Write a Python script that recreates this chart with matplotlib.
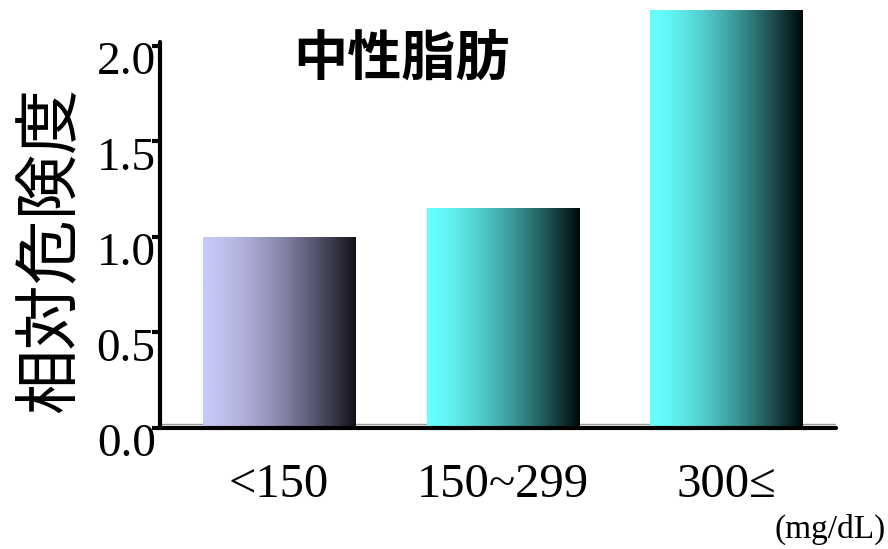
import numpy as np
import matplotlib
matplotlib.use('Agg')
from matplotlib import pyplot as plt
from matplotlib import transforms
from matplotlib.colors import LinearSegmentedColormap

# data
categories = ['<150', '150~299', '300≤']
risk = [1.0, 1.15, 2.19]
light_colors = ['#c8c8f8', '#66ffff', '#66ffff']
dark_colors = ['#12121a', '#000808', '#000808']
yticks = [0.0, 0.5, 1.0, 1.5, 2.0]

serif = 'Liberation Serif'
cjk = 'Noto Sans CJK JP'

fig = plt.figure(figsize=(8.88, 5.49), dpi=100)
ax = fig.add_axes([0.180, 0.2204, 0.7614, 0.7031])

x = np.arange(len(categories))
bars = ax.bar(x, risk, width=0.68, color='none', edgecolor='none', clip_on=False, zorder=2)

# horizontal gradient fill for each bar
grad = np.linspace(0, 1, 256) ** 1.5
grad = grad.reshape(1, -1)
for bar, c0, c1 in zip(bars, light_colors, dark_colors):
    cmap = LinearSegmentedColormap.from_list('g', [c0, c1])
    x0, y0 = bar.get_x(), bar.get_y()
    x1, y1 = x0 + bar.get_width(), y0 + bar.get_height()
    im = ax.imshow(grad, cmap=cmap, aspect='auto', extent=[x0, x1, y0 - 0.012, y1],
                   interpolation='bicubic', zorder=2)
    im.set_clip_path(bar)

ax.set_xlim(-0.534, 2.49)
ax.set_ylim(0, 2.02)

for side in ['top', 'right']:
    ax.spines[side].set_visible(False)
for side in ['left', 'bottom']:
    ax.spines[side].set_linewidth(3)
    ax.spines[side].set_zorder(3)
    ax.spines[side].set_capstyle('round')

# thin grey floor line just above the x axis
floor = ax.get_yaxis_transform() + transforms.ScaledTranslation(0, 4 / 100, fig.dpi_scale_trans)
ax.plot([0, 1], [0, 0], color='#999999', lw=1, transform=floor, zorder=1)

ax.set_yticks(yticks)
ax.set_yticklabels(['%.1f' % v for v in yticks], fontfamily=serif, fontsize=34)
ax.tick_params(axis='y', length=6, width=3, pad=-3)
shift = transforms.ScaledTranslation(0, -12 / 100, fig.dpi_scale_trans)
for lab in ax.get_yticklabels():
    lab.set_transform(lab.get_transform() + shift)

ax.set_xticks(x)
ax.set_xticklabels(categories, fontfamily=serif, fontsize=35)
ax.tick_params(axis='x', length=0, pad=25)

fig.text(0.452, 0.89, '中性脂肪', family=cjk, fontsize=39, fontweight='bold',
         ha='center', va='center')
fig.text(0.056, 0.545, '相対危険度', family=cjk, fontsize=47, rotation=90,
         ha='center', va='center')
fig.text(0.997, 0.035, '(mg/dL)', family=serif, fontsize=24, ha='right', va='center')

fig.savefig('out.png', dpi=100)
